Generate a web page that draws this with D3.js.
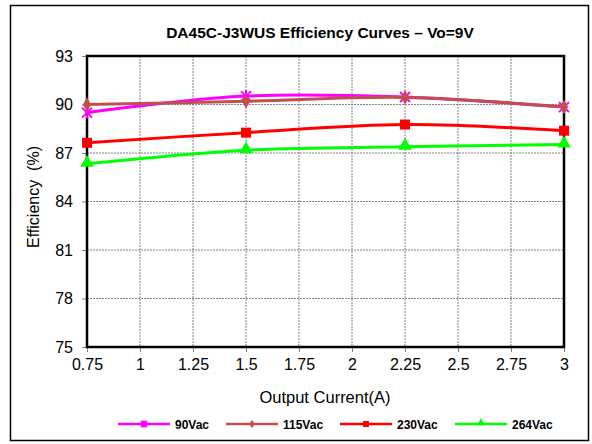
<!DOCTYPE html>
<html>
<head>
<meta charset="utf-8">
<script src="https://cdn.jsdelivr.net/npm/d3@7"></script>
<style>
body { margin: 0; background: #fff; }
svg text { font-family: "Liberation Sans", Arial, sans-serif; }
</style>
</head>
<body>
<svg id="chart" width="592" height="444"></svg>
<script>
'use strict';

var currents = [0.75, 1.5, 2.25, 3];
var eff90 = [89.5, 90.52, 90.46, 89.84];
var eff115 = [90.0, 90.2, 90.44, 89.85];
var eff230 = [87.63, 88.26, 88.76, 88.38];
var eff264 = [86.33, 87.17, 87.38, 87.52];
var seriesNames = ['90Vac', '115Vac', '230Vac', '264Vac'];
var xTicks = [0.75, 1, 1.25, 1.5, 1.75, 2, 2.25, 2.5, 2.75, 3];
var yTicks = [75, 78, 81, 84, 87, 90, 93];

var M = { LEFT: 87, TOP: 56, RIGHT: 564, BOTTOM: 347 };
var colors = ['#ff00ff', '#c0504d', '#ff0000', '#00ff00'];
var shapes = ['star', 'diamond', 'square', 'triangle'];

var svg = d3.select('#chart');

// outer chart border
svg.append('rect')
    .attr('x', 10.5).attr('y', 5.5)
    .attr('width', 578).attr('height', 435)
    .attr('fill', '#fff').attr('stroke', '#000').attr('stroke-width', 1.5);

var x = d3.scaleLinear().domain([0.75, 3]).range([M.LEFT, M.RIGHT]);
var y = d3.scaleLinear().domain([75, 93]).range([M.BOTTOM, M.TOP]);

// grid
svg.append('g').selectAll('line.v')
    .data(xTicks.slice(1, -1)).enter().append('line')
    .attr('x1', function(d) { return x(d); }).attr('x2', function(d) { return x(d); })
    .attr('y1', M.TOP).attr('y2', M.BOTTOM)
    .attr('stroke', '#808080').attr('stroke-width', 1).attr('stroke-dasharray', '2,1');
svg.append('g').selectAll('line.h')
    .data(yTicks.slice(1, -1)).enter().append('line')
    .attr('y1', function(d) { return y(d); }).attr('y2', function(d) { return y(d); })
    .attr('x1', M.LEFT).attr('x2', M.RIGHT)
    .attr('stroke', '#808080').attr('stroke-width', 1).attr('stroke-dasharray', '2,1');

// axes
var xAxis = svg.append('g')
    .attr('transform', 'translate(0,' + M.BOTTOM + ')')
    .call(d3.axisBottom(x).tickValues(xTicks).tickSize(5).tickPadding(7)
        .tickFormat(function(d) { return String(d); }));
var yAxis = svg.append('g')
    .attr('transform', 'translate(' + M.LEFT + ',0)')
    .call(d3.axisLeft(y).tickValues(yTicks).tickSize(5).tickPadding(9));
[xAxis, yAxis].forEach(function(a) {
    a.select('.domain').remove();
    a.selectAll('line').attr('stroke', '#808080');
    a.selectAll('text').attr('font-size', 16).attr('fill', '#000')
        .style('font-family', '"Liberation Sans", Arial, sans-serif');
});

// plot frame
svg.append('rect')
    .attr('x', M.LEFT).attr('y', M.TOP)
    .attr('width', M.RIGHT - M.LEFT).attr('height', M.BOTTOM - M.TOP)
    .attr('fill', 'none').attr('stroke', '#000').attr('stroke-width', 2.5);

// titles
svg.append('text').attr('x', 320).attr('y', 38)
    .attr('text-anchor', 'middle').attr('font-size', 15.5).attr('font-weight', 'bold')
    .text('DA45C-J3WUS Efficiency Curves \u2013 Vo=9V');
svg.append('text').attr('x', 325).attr('y', 403)
    .attr('text-anchor', 'middle').attr('font-size', 16.5)
    .text('Output Current(A)');
svg.append('text')
    .attr('transform', 'translate(39,197) rotate(-90)')
    .attr('text-anchor', 'middle').attr('font-size', 16)
    .attr('xml:space', 'preserve')
    .text('Efficiency  (%)');

function marker(g, shape, color, cx, cy, s) {
    if (shape === 'star') {
        var p = d3.path();
        p.moveTo(cx - s, cy - s); p.lineTo(cx + s, cy + s);
        p.moveTo(cx - s, cy + s); p.lineTo(cx + s, cy - s);
        p.moveTo(cx, cy - s * 1.2); p.lineTo(cx, cy + s * 1.2);
        g.append('path').attr('d', p.toString()).attr('stroke', color)
            .attr('stroke-width', 2).attr('fill', 'none');
    } else {
        var type = shape === 'diamond' ? d3.symbolDiamond :
            shape === 'square' ? d3.symbolSquare : d3.symbolTriangle;
        var size = shape === 'diamond' ? s * s * 2.4 : shape === 'square' ? s * s * 4 : s * s * 3.2;
        g.append('path').attr('d', d3.symbol().type(type).size(size)())
            .attr('transform', 'translate(' + cx + ',' + (shape === 'triangle' ? cy - 1 : cy) + ')')
            .attr('fill', color);
    }
}

var allSeries = [eff90, eff115, eff230, eff264];
var line = d3.line()
    .x(function(d, i) { return x(currents[i]); })
    .y(function(d) { return y(d); })
    .curve(d3.curveCatmullRom.alpha(0.5));

// draw 264 first so the upper ones overlay in order
[3, 2, 0, 1].forEach(function(k) {
    var g = svg.append('g');
    g.append('path').datum(allSeries[k]).attr('d', line)
        .attr('fill', 'none').attr('stroke', colors[k]).attr('stroke-width', 3);
    allSeries[k].forEach(function(v, i) {
        marker(g, shapes[k], colors[k], x(currents[i]), y(v), 5);
    });
});

// legend
var legX = [118, 226, 340, 455];
seriesNames.forEach(function(name, k) {
    var g = svg.append('g');
    g.append('line').attr('x1', legX[k]).attr('x2', legX[k] + 52)
        .attr('y1', 424).attr('y2', 424)
        .attr('stroke', colors[k]).attr('stroke-width', 2.5);
    marker(g, shapes[k], colors[k], legX[k] + 26, 424, 3);
    g.append('text').attr('x', legX[k] + 57).attr('y', 428.5)
        .attr('font-size', 12).attr('font-weight', 'bold').text(name);
});
</script>
</body>
</html>
